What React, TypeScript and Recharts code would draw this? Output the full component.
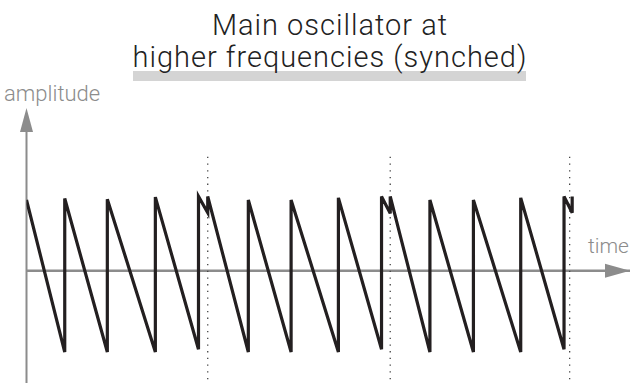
import { LineChart, Line, XAxis, YAxis, ReferenceLine, ReferenceDot } from 'recharts'

// time in master periods, amplitude in units of the ramp height above zero
const waveTime = [
  0, 0.211, 0.211, 0.446, 0.446, 0.711, 0.711, 0.949, 0.949, 1.0, 1.0,
  1.224, 1.224, 1.46, 1.46, 1.721, 1.721, 1.959, 1.959, 2.007, 2.007,
  2.226, 2.226, 2.466, 2.466, 2.727, 2.727, 2.966, 2.966, 3.011, 3.011,
]
const waveAmp = [
  1.0, -1.15, 1.02, -1.15, 1.01, -1.15, 1.04, -1.11, 1.05, 0.82, 1.05,
  -1.15, 1.0, -1.15, 1.0, -1.15, 1.03, -1.11, 1.05, 0.81, 1.05,
  -1.15, 1.0, -1.15, 1.0, -1.15, 1.03, -1.11, 1.05, 0.82, 1.05,
]
const syncTimes = [1.0, 2.007, 2.997]
const syncTop = 1.61

const titleLines = ['Main oscillator at', 'higher frequencies (synched)']
const yLabel = 'amplitude'
const xLabel = 'time'

const xDomain: [number, number] = [0, 3.33]
const yDomain: [number, number] = [-1.588, 2.3]

const data = waveTime.map((t, i) => ({ t, amp: waveAmp[i] }))

const axisGray = '#8c8c8c'
const ink = '#231f20'
const font = 'Roboto, "Liberation Sans", sans-serif'

function UpArrow({ cx, cy }: { cx?: number; cy?: number }) {
  if (cx == null || cy == null) return null
  return <polygon points={`${cx},${cy} ${cx - 6.5},${cy + 24} ${cx + 6.5},${cy + 24}`} fill={axisGray} />
}

function RightArrow({ cx, cy }: { cx?: number; cy?: number }) {
  if (cx == null || cy == null) return null
  return <polygon points={`${cx},${cy} ${cx - 25},${cy - 7} ${cx - 25},${cy + 7}`} fill={axisGray} />
}

export default function App() {
  return (
    <div style={{ position: 'absolute', left: 0, top: 0, width: 631, height: 392, background: '#fff' }}>
      <LineChart width={631} height={392} data={data} margin={{ top: 108, right: 1, bottom: 9, left: 26.5 }}>
        <XAxis dataKey="t" type="number" domain={xDomain} hide height={0} allowDataOverflow />
        <YAxis type="number" domain={yDomain} hide width={0} allowDataOverflow />
        <ReferenceLine
          segment={[{ x: xDomain[0], y: yDomain[0] }, { x: xDomain[0], y: yDomain[1] - 0.2 }]}
          stroke={axisGray}
          strokeWidth={2}
        />
        <ReferenceLine y={0} stroke={axisGray} strokeWidth={2.5} />
        {syncTimes.map((s) => (
          <ReferenceLine
            key={s}
            segment={[{ x: s, y: syncTop }, { x: s, y: yDomain[0] }]}
            stroke="#444"
            strokeWidth={1.3}
            strokeDasharray="1.3 5.4"
          />
        ))}
        <ReferenceDot x={xDomain[1]} y={0} shape={<RightArrow />} />
        <ReferenceDot x={xDomain[0]} y={yDomain[1]} shape={<UpArrow />} />
        <Line
          type="linear"
          dataKey="amp"
          stroke={ink}
          strokeWidth={3.2}
          strokeLinejoin="miter"
          dot={false}
          activeDot={false}
          isAnimationActive={false}
        />
        <rect x={133} y={71} width={393} height={10} fill="#d4d4d4" />
        <text x={330} y={35} textAnchor="middle" fontFamily={font} fontWeight={300} fontSize={29} letterSpacing={1} fill="#222">
          {titleLines[0]}
        </text>
        <text x={330} y={67} textAnchor="middle" fontFamily={font} fontWeight={300} fontSize={29} letterSpacing={1} fill="#222">
          {titleLines[1]}
        </text>
        <text x={4} y={100.5} fontFamily={font} fontWeight={300} fontSize={22} fill={axisGray}>
          {yLabel}
        </text>
        <text x={588} y={253} fontFamily={font} fontWeight={300} fontSize={21} fill={axisGray}>
          {xLabel}
        </text>
      </LineChart>
    </div>
  )
}
